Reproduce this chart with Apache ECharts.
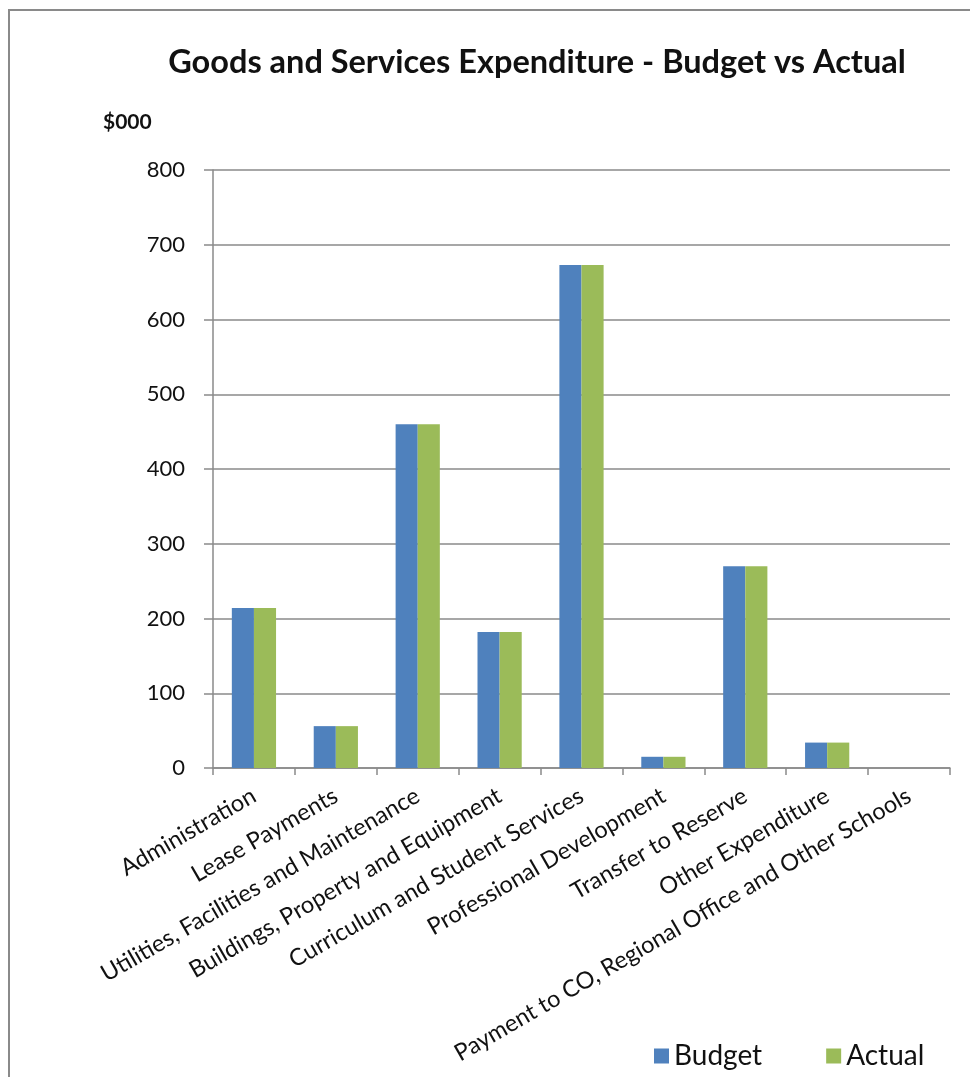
<!DOCTYPE html>
<html>
<head>
<meta charset="utf-8">
<script src="https://cdn.jsdelivr.net/npm/echarts@6/dist/echarts.min.js"></script>
<style>
  html, body { margin: 0; padding: 0; background: #fff; }
  #chart { width: 970px; height: 1077px; }
</style>
</head>
<body>
<div id="chart"></div>
<script>
// Goods and services expenditure, $000
const categories = [
  'Administration',
  'Lease Payments',
  'Utilities, Facilities and Maintenance',
  'Buildings, Property and Equipment',
  'Curriculum and Student Services',
  'Professional Development',
  'Transfer to Reserve',
  'Other Expenditure',
  'Payment to CO, Regional Office and Other Schools'
];
const budget = [214, 56, 460, 182, 673, 15, 270, 34, 0];
const actual = [214, 56, 460, 182, 673, 15, 270, 34, 0];
const yTicks = { min: 0, max: 800, interval: 100 };

const FONT = 'Lato, "Open Sans", sans-serif';
const AXIS_GREY = '#8a8a8a';
const chart = echarts.init(document.getElementById('chart'), null, { renderer: 'canvas' });

chart.setOption({
  backgroundColor: '#ffffff',
  animation: false,
  title: {
    text: 'Goods and Services Expenditure - Budget vs Actual',
    left: 532,
    textAlign: 'center',
    top: 41,
    textStyle: { fontFamily: FONT, fontSize: 32.5, fontWeight: 'bold', color: '#111' }
  },
  graphic: [
    {
      type: 'rect',
      shape: { x: 9, y: 10, width: 1000, height: 1100 },
      style: { fill: 'none', stroke: AXIS_GREY, lineWidth: 2 },
      silent: true
    },
    {
      type: 'text',
      left: 103,
      top: 112,
      style: { text: '$000', font: 'bold 21px ' + FONT, fill: '#111' }
    }
  ],
  legend: {
    data: ['Budget', 'Actual'],
    left: 649,
    top: 1037,
    itemWidth: 15,
    itemHeight: 15,
    itemGap: 64,
    icon: 'rect',
    textStyle: { fontFamily: FONT, fontSize: 28, color: '#111' }
  },
  grid: { left: 213, right: 20, top: 170, bottom: 309, containLabel: false },
  xAxis: {
    type: 'category',
    data: categories,
    axisLine: { show: true, lineStyle: { color: AXIS_GREY, width: 1.5 } },
    axisTick: { show: true, length: 7, lineStyle: { color: AXIS_GREY, width: 1.5 } },
    axisLabel: { interval: 0, rotate: 30, margin: 26, fontFamily: FONT, fontSize: 23.5, color: '#111' },
    splitLine: { show: false }
  },
  yAxis: {
    type: 'value',
    min: yTicks.min,
    max: yTicks.max,
    interval: yTicks.interval,
    axisLine: { show: true, lineStyle: { color: AXIS_GREY, width: 1.5 } },
    axisTick: { show: true, length: 9, lineStyle: { color: AXIS_GREY, width: 1.5 } },
    axisLabel: { margin: 28, fontFamily: FONT, fontSize: 22, color: '#111' },
    splitLine: { show: true, lineStyle: { color: AXIS_GREY, width: 1.5 } }
  },
  series: [
    {
      name: 'Budget',
      type: 'bar',
      data: budget,
      barGap: '0%',
      barCategoryGap: '46%',
      itemStyle: { color: '#4F81BD' }
    },
    {
      name: 'Actual',
      type: 'bar',
      data: actual,
      itemStyle: { color: '#9BBB59' }
    }
  ]
});
</script>
</body>
</html>
